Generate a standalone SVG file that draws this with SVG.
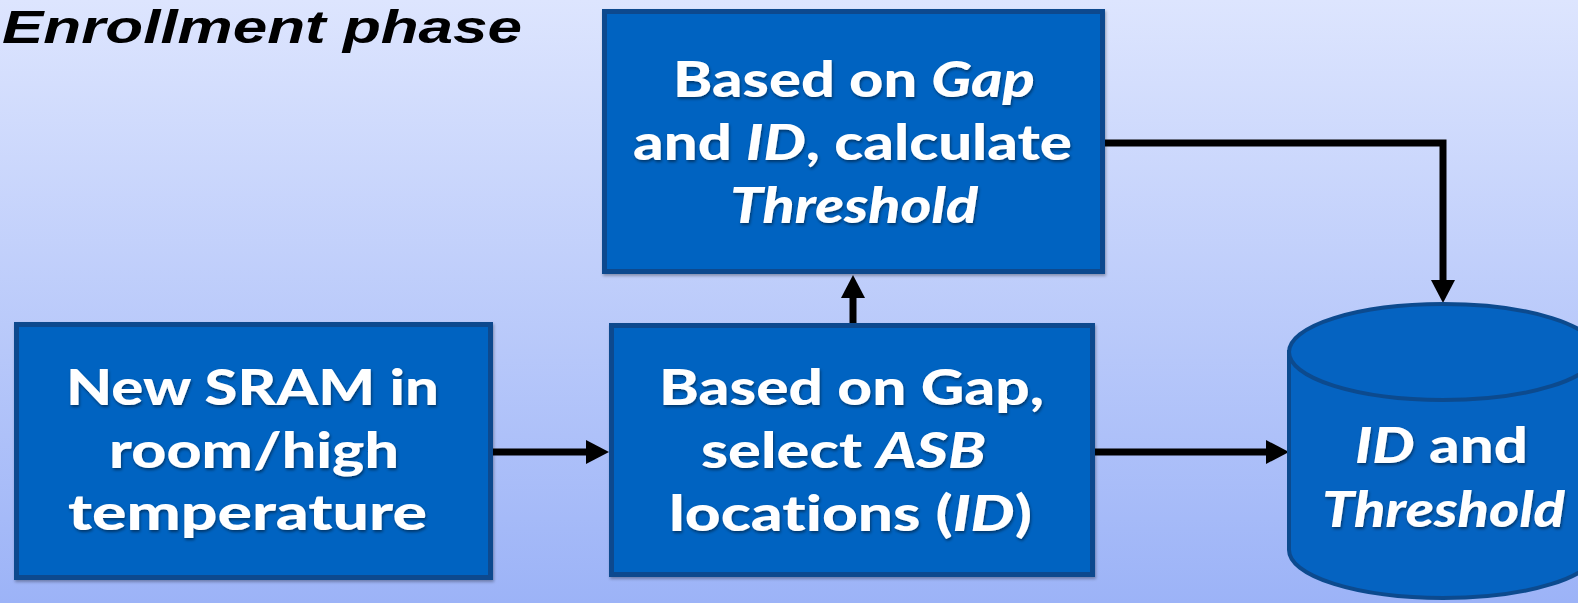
<svg xmlns="http://www.w3.org/2000/svg" width="1578" height="603" viewBox="0 0 1578 603">
<defs>
<linearGradient id="bg" x1="0" y1="0" x2="0" y2="1">
<stop offset="0" stop-color="#dde5fe"/>
<stop offset="1" stop-color="#9cb3f7"/>
</linearGradient>
<filter id="ts" x="-10%" y="-30%" width="120%" height="160%">
<feDropShadow dx="1" dy="2" stdDeviation="1.5" flood-color="#000" flood-opacity="0.45"/>
</filter>
<filter id="bs" x="-5%" y="-5%" width="110%" height="110%">
<feDropShadow dx="1" dy="2" stdDeviation="1.5" flood-color="#000" flood-opacity="0.3"/>
</filter>
<marker id="ah" markerUnits="userSpaceOnUse" markerWidth="26" markerHeight="26" viewBox="-2 -13 26 26" refX="0" refY="0" orient="auto">
<path d="M-1,-12 L22,0 L-1,12 Z" fill="#000"/>
</marker>
<style>
.box{fill:#0563c1;stroke:#0c4a8e;stroke-width:5;filter:url(#bs)}
.t{font-family:Lato,"Open Sans","Liberation Sans",sans-serif;font-weight:900;font-size:49px;fill:#fff;filter:url(#ts);font-variant-ligatures:none}
.i{font-style:italic}
.c{fill:none;stroke:#000;stroke-width:7;stroke-linejoin:miter}
</style>
</defs>
<rect width="1578" height="603" fill="url(#bg)"/>
<text x="2" y="43" textLength="520" lengthAdjust="spacingAndGlyphs" font-family="'Liberation Sans',Arial,sans-serif" font-weight="bold" font-style="italic" font-size="47" fill="#000">Enrollment phase</text>

<g id="connectors">
<path class="c" d="M493,452 H587" marker-end="url(#ah)"/>
<path class="c" d="M853,323 V297" marker-end="url(#ah)"/>
<path class="c" d="M1105,143 H1443 V281" marker-end="url(#ah)"/>
<path class="c" d="M1095,452 H1267" marker-end="url(#ah)"/>
</g>

<g id="node-sram">
<rect class="box" x="16.5" y="324.5" width="474" height="253"/>
<text class="t" x="66" y="405" textLength="373" lengthAdjust="spacingAndGlyphs">New SRAM in</text>
<text class="t" x="109" y="468" textLength="290" lengthAdjust="spacingAndGlyphs">room/high</text>
<text class="t" x="68" y="530" textLength="359" lengthAdjust="spacingAndGlyphs">temperature</text>
</g>

<g id="node-select">
<rect class="box" x="611.5" y="325.5" width="481" height="249"/>
<text class="t" x="659" y="405" textLength="385" lengthAdjust="spacingAndGlyphs">Based on Gap,</text>
<text class="t" x="701" y="468" textLength="285" lengthAdjust="spacingAndGlyphs">select <tspan class="i">ASB</tspan></text>
<text class="t" x="669" y="531" textLength="363" lengthAdjust="spacingAndGlyphs">locations (<tspan class="i">ID</tspan>)</text>
</g>

<g id="node-threshold">
<rect class="box" x="604.5" y="11.5" width="498" height="260"/>
<text class="t" x="673" y="97" textLength="362" lengthAdjust="spacingAndGlyphs">Based on <tspan class="i">Gap</tspan></text>
<text class="t" x="633" y="160" textLength="439" lengthAdjust="spacingAndGlyphs">and <tspan class="i">ID</tspan>, calculate</text>
<text class="t i" x="730" y="223" textLength="248" lengthAdjust="spacingAndGlyphs">Threshold</text>
</g>

<g id="node-db">
<path d="M1289,352 V550 A154,48 0 0 0 1597,550 V352 Z" fill="#0563c1" stroke="#0c4a8e" stroke-width="4"/>
<ellipse cx="1443" cy="352" rx="154" ry="48" fill="#0563c1" stroke="#0c4a8e" stroke-width="4"/>
<text class="t" x="1355" y="463" textLength="173" lengthAdjust="spacingAndGlyphs"><tspan class="i">ID</tspan> and</text>
<text class="t i" x="1322" y="527" textLength="243" lengthAdjust="spacingAndGlyphs">Threshold</text>
</g>
</svg>
